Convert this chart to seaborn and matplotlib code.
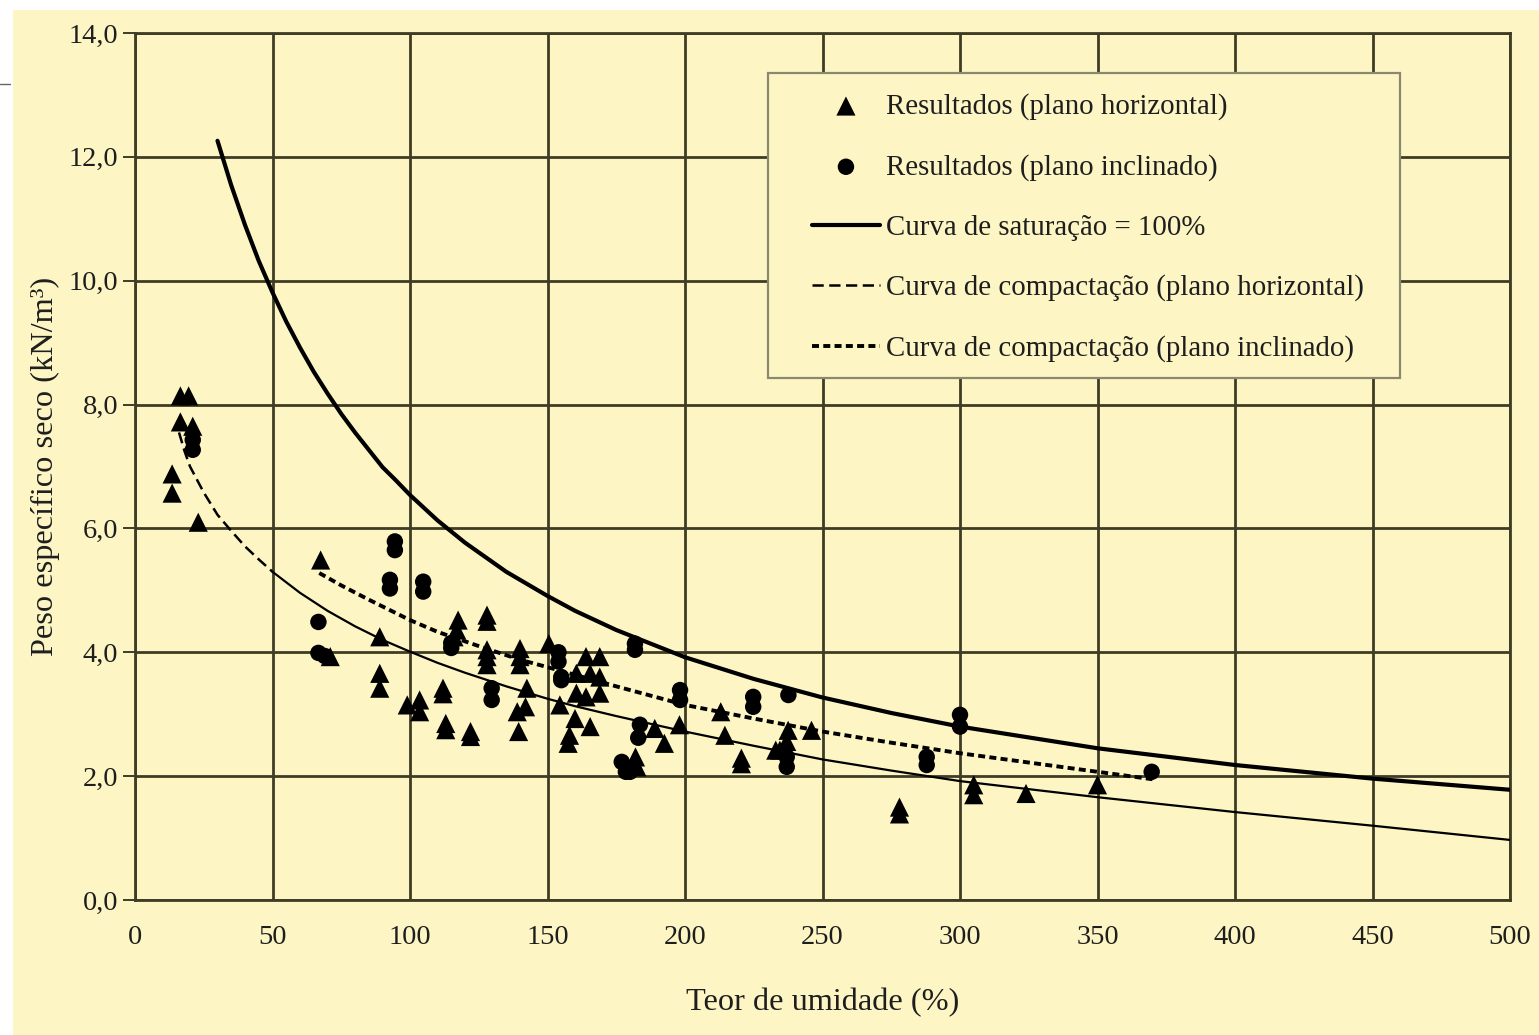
import numpy as np
import pandas as pd
import seaborn as sns
import matplotlib
matplotlib.use('Agg')
import matplotlib.pyplot as plt
from matplotlib.patches import Rectangle
from matplotlib.lines import Line2D
from matplotlib.ticker import FuncFormatter

# resultados - plano horizontal (triangulos)
hor_x = [16.5, 19.5, 16.5, 21, 13.5, 13.5, 23,
         67.5, 71, 89, 89, 89, 99, 103.5, 103.5,
         112, 112, 113, 113, 122, 122, 117.5, 117, 116,
         128, 128, 128, 128, 128, 140, 140, 140, 142.5, 142, 139, 139.5,
         150.5, 154.5, 164, 169, 160.5, 165.5, 169, 160.5, 164, 169,
         160, 165.5, 158, 157.5, 182, 182.5, 189, 192.5, 198,
         213, 214.5, 220.5, 220.5, 233, 237.5, 237, 234.5, 246,
         278, 278, 305, 305, 324, 350]
hor_y = [8.14, 8.14, 7.72, 7.65, 6.88, 6.57, 6.10,
         5.49, 3.93, 4.25, 3.66, 3.42, 3.15, 3.23, 3.04,
         3.42, 3.33, 2.85, 2.75, 2.72, 2.64, 4.52, 4.36, 4.25,
         4.60, 4.50, 4.04, 3.93, 3.80, 4.06, 3.93, 3.80, 3.42, 3.12, 3.04, 2.72,
         4.14, 3.15, 3.93, 3.93, 3.66, 3.66, 3.60, 3.34, 3.28, 3.34,
         2.93, 2.80, 2.66, 2.53, 2.31, 2.15, 2.77, 2.53, 2.83,
         3.04, 2.66, 2.29, 2.20, 2.42, 2.74, 2.56, 2.42, 2.74,
         1.50, 1.39, 1.86, 1.70, 1.72, 1.86]

# resultados - plano inclinado (circulos)
inc_x = [21, 21, 66.7, 66.7, 69, 94.5, 94.5, 92.7, 92.7, 104.8, 104.8,
         115, 115, 129.7, 129.7, 154, 154, 155, 155, 181.8, 181.8,
         198.2, 198.2, 183.6, 183, 177, 178.5, 180, 224.8, 224.8,
         237.6, 237, 237, 287.9, 287.9, 300, 300, 369.7]
inc_y = [7.43, 7.27, 4.49, 3.99, 3.94, 5.79, 5.65, 5.17, 5.03, 5.14, 4.98,
         4.15, 4.07, 3.42, 3.23, 4.00, 3.85, 3.60, 3.55, 4.14, 4.04,
         3.39, 3.23, 2.83, 2.62, 2.23, 2.07, 2.07, 3.28, 3.12,
         3.31, 2.31, 2.15, 2.31, 2.18, 2.99, 2.80, 2.07]

# curva de saturacao = 100%
sat_x = [30, 35, 40, 45, 50, 55, 60, 65, 70, 75, 80, 85, 90, 95, 100, 110, 120,
         135, 150, 160, 175, 200, 225, 250, 275, 300, 350, 400, 450, 500]
sat_y = [12.26, 11.54, 10.90, 10.32, 9.81, 9.34, 8.92, 8.53, 8.18, 7.85,
         7.55, 7.27, 6.99, 6.77, 6.54, 6.13, 5.77, 5.30, 4.91, 4.67, 4.36,
         3.92, 3.57, 3.27, 3.02, 2.80, 2.45, 2.18, 1.96, 1.78]

# curva de compactacao - plano horizontal
hc_x = [16, 18, 20, 25, 30, 35, 40, 45, 50]
hc_y = [7.55, 7.25, 7.00, 6.58, 6.22, 5.96, 5.71, 5.50, 5.30]
hc2_x = [50, 60, 70, 80, 90, 100, 110, 120, 135, 150, 160, 175, 200, 225,
         250, 275, 300, 350, 400, 450, 500]
hc2_y = [5.30, 4.96, 4.67, 4.42, 4.20, 4.01, 3.83, 3.67, 3.45, 3.25, 3.13,
         2.97, 2.72, 2.49, 2.27, 2.09, 1.92, 1.66, 1.42, 1.20, 0.97]

# curva de compactacao - plano inclinado
ic_x = [67, 75, 85, 100, 110, 125, 140, 150, 175, 200, 225, 250, 275, 300,
        325, 350, 370]
ic_y = [5.28, 5.08, 4.85, 4.52, 4.33, 4.10, 3.88, 3.76, 3.45, 3.15, 2.93,
        2.72, 2.54, 2.37, 2.22, 2.07, 1.95]

bg = '#fdf6c4'
grid_c = '#3f3c25'
txt_c = '#1e1e1e'

sns.set_theme(style='white')
plt.rcParams['font.family'] = ['Liberation Serif', 'DejaVu Serif']

fig = plt.figure(figsize=(15.39, 10.35), dpi=100, facecolor='white')
fig.add_artist(Rectangle((13/1539, 0), 1, 1 - 10/1035, transform=fig.transFigure,
                         facecolor=bg, edgecolor='none', zorder=0))
fig.add_artist(Line2D([0, 10/1539], [1 - 84/1035, 1 - 84/1035], transform=fig.transFigure,
                      color='#666666', lw=1))
ax = fig.add_axes([135/1539, 135/1035, 1375/1539, 867/1035])
ax.set_facecolor(bg)

sns.scatterplot(x=hor_x, y=hor_y, ax=ax, marker='^', s=190, color='black',
                edgecolor='none', label='Resultados (plano horizontal)', zorder=4)
sns.scatterplot(x=inc_x, y=inc_y, ax=ax, marker='o', s=140, color='black',
                edgecolor='none', label='Resultados (plano inclinado)', zorder=4)
sns.lineplot(x=sat_x, y=sat_y, ax=ax, color='black', lw=3.0, estimator=None, sort=False,
             label='Curva de saturação = 100%', zorder=3)
sns.lineplot(x=hc_x, y=hc_y, ax=ax, color='black', lw=1.8, estimator=None, sort=False,
             linestyle=(0, (4.5, 2.2)), label='Curva de compactação (plano horizontal)', zorder=3)
sns.lineplot(x=hc2_x, y=hc2_y, ax=ax, color='black', lw=1.6, estimator=None, sort=False, zorder=3)
sns.lineplot(x=ic_x, y=ic_y, ax=ax, color='black', lw=2.8, estimator=None, sort=False,
             linestyle=(0, (1.8, 1.1)), label='Curva de compactação (plano inclinado)', zorder=3)

ax.set_xlim(0, 500)
ax.set_ylim(0, 14)
ax.set_xticks(np.arange(0, 501, 50))
ax.set_yticks(np.arange(0, 14.1, 2))
ax.yaxis.set_major_formatter(FuncFormatter(lambda v, p: f'{v:.1f}'.replace('.', ',')))
ax.grid(True, color=grid_c, lw=2.0)
ax.set_axisbelow(True)
for s in ax.spines.values():
    s.set_color(grid_c)
    s.set_linewidth(2.0)
ax.tick_params(axis='y', length=9, width=1.4, color=grid_c, labelsize=20.5, pad=3, left=True)
ax.tick_params(axis='x', length=0, labelsize=20.5, pad=18)
ax.set_xlabel('Teor de umidade (%)', fontsize=23.3, labelpad=27, color=txt_c)
ax.set_ylabel('Peso específico seco (kN/m³)', fontsize=23.3, labelpad=6, color=txt_c)
for t in ax.get_xticklabels() + ax.get_yticklabels():
    t.set_color(txt_c)

# caixa da legenda
ax.add_patch(Rectangle((633/1375, 522/867), 632/1375, 305/867, transform=ax.transAxes,
                       facecolor=bg, edgecolor='#8a8870', lw=1.6, zorder=5))
handles, labels = ax.get_legend_handles_labels()
leg = ax.legend(handles, labels, loc='upper left', bbox_to_anchor=(677/1375, 807/867),
                fontsize=20.8, frameon=False, handlelength=2.35, handletextpad=0.2,
                labelspacing=1.17, borderpad=0, borderaxespad=0)
leg.set_zorder(6)
for t in leg.get_texts():
    t.set_color(txt_c)

fig.savefig('out.png', dpi=100, facecolor='white')
